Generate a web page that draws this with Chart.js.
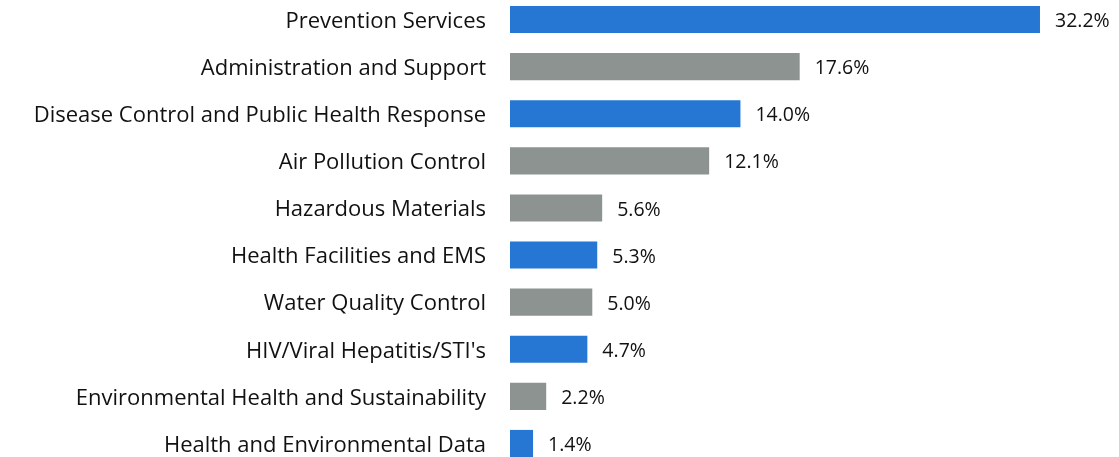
<!DOCTYPE html>
<html>
<head>
<meta charset="utf-8">
<script src="https://cdn.jsdelivr.net/npm/chart.js@4"></script>
<style>
  html, body { margin:0; padding:0; background:#ffffff; overflow:hidden; }
  #wrap { position:absolute; left:0; top:-4px; width:1119px; height:471px; }
</style>
</head>
<body>
<div id="wrap"><canvas id="chart"></canvas></div>
<script>
// ---------- Data ----------

const categories = [
    "Prevention Services",
    "Administration and Support",
    "Disease Control and Public Health Response",
    "Air Pollution Control",
    "Hazardous Materials",
    "Health Facilities and EMS",
    "Water Quality Control",
    "HIV/Viral Hepatitis/STI's",
    "Environmental Health and Sustainability",
    "Health and Environmental Data"
];

const shares = [32.2, 17.6, 14.0, 12.1, 5.6, 5.3, 5.0, 4.7, 2.2, 1.4];

const barColors = [
    "#2577d3", "#8c9391", "#2577d3", "#8c9391", "#8c9391",
    "#2577d3", "#8c9391", "#2577d3", "#8c9391", "#2577d3"
];

const FONT = "'Open Sans', sans-serif";

// ---------- Value labels ----------

const valueLabels = {
    id: "valueLabels",
    afterDatasetsDraw(chart){
        const ctx = chart.ctx;
        const meta = chart.getDatasetMeta(0);
        ctx.save();
        ctx.font = "19.5px " + FONT;
        ctx.fillStyle = "#111111";
        ctx.textAlign = "left";
        ctx.textBaseline = "middle";
        meta.data.forEach((bar, i) => {
            ctx.fillText(shares[i].toFixed(1) + "%", bar.x + 15, bar.y + 2);
        });
        ctx.restore();
    }
};

// ---------- Chart ----------

new Chart(document.getElementById("chart"), {
    type: "bar",
    data: {
        labels: categories,
        datasets: [{
            data: shares,
            backgroundColor: barColors,
            borderWidth: 0,
            barPercentage: 0.575,
            categoryPercentage: 1
        }]
    },
    options: {
        indexAxis: "y",
        responsive: true,
        maintainAspectRatio: false,
        animation: false,
        layout: { padding: 0 },
        plugins: {
            legend: { display: false },
            tooltip: { enabled: false }
        },
        scales: {
            x: {
                display: false,
                min: 0,
                max: 37
            },
            y: {
                grid: { display: false },
                border: { display: false },
                ticks: {
                    color: "#111111",
                    font: { family: FONT, size: 22 },
                    padding: 16,
                    labelOffset: 2
                },
                afterFit(scale){
                    scale.width = 510;
                    scale.paddingTop = 0;
                    scale.paddingBottom = 0;
                }
            }
        }
    },
    plugins: [valueLabels]
});
</script>
</body>
</html>
